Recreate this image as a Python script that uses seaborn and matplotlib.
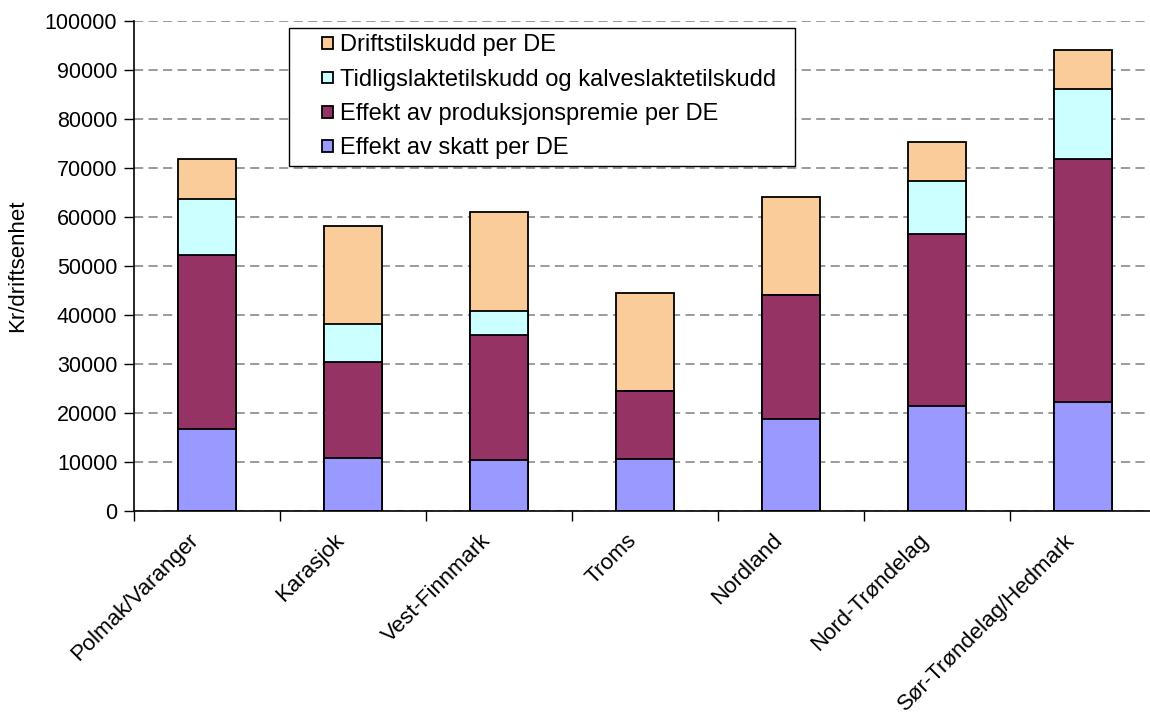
import matplotlib
matplotlib.use("Agg")
import matplotlib.pyplot as plt
from matplotlib.patches import Rectangle
from matplotlib.legend_handler import HandlerPatch
import seaborn as sns
import pandas as pd
import numpy as np

regions = ["Polmak/Varanger", "Karasjok", "Vest-Finnmark", "Troms",
           "Nordland", "Nord-Trøndelag", "Sør-Trøndelag/Hedmark"]

# Kr per driftsenhet, one list per component (bottom to top in the stack)
skatt = [16700, 10800, 10300, 10500, 18700, 21300, 22100]
produksjonspremie = [35400, 19600, 25500, 13900, 25300, 35100, 49600]
slaktetilskudd = [11500, 7600, 5000, 0, 0, 10800, 14300]
driftstilskudd = [8100, 20100, 20100, 20000, 20000, 8000, 8000]

series_names = ["Effekt av skatt per DE",
                "Effekt av produksjonspremie per DE",
                "Tidligslaktetilskudd og kalveslaktetilskudd",
                "Driftstilskudd per DE"]
series_values = [skatt, produksjonspremie, slaktetilskudd, driftstilskudd]
series_colors = ["#9999FF", "#953364", "#CCFFFF", "#F9CC99"]

sns.set_theme(style="white")
plt.rcParams["font.family"] = ["Liberation Sans", "DejaVu Sans"]
plt.rcParams["text.color"] = "black"
plt.rcParams["axes.labelcolor"] = "black"
plt.rcParams["xtick.color"] = "black"
plt.rcParams["ytick.color"] = "black"

fig = plt.figure(figsize=(11.5, 7.17), dpi=100)
ax = fig.add_axes([0.1165, 0.288, 0.8887, 0.6834])

# cumulative totals, drawn from the top of the stack downwards
cum = np.cumsum(np.array(series_values), axis=0)
for i in range(len(series_names) - 1, -1, -1):
    df = pd.DataFrame({"region": regions, "value": cum[i]})
    sns.barplot(data=df, x="region", y="value", order=regions,
                color=series_colors[i], saturation=1, width=0.4,
                edgecolor="black", linewidth=1.3, ax=ax, zorder=3)

ax.set_ylim(0, 100000)
ax.set_xlim(-0.5, len(regions) - 0.5)
ax.set_yticks(np.arange(0, 100001, 10000))
ax.set_yticklabels([str(v) for v in range(0, 100001, 10000)], fontsize=15.5)
ax.yaxis.grid(True, linestyle=(0, (6, 3.5)), color="#808080", linewidth=1.1,
              zorder=0)
ax.set_axisbelow(True)

# slanted category labels end just left of each bar's centre
label_pos = np.arange(len(regions)) - 0.13
ax.set_xticks(label_pos)
ax.set_xticklabels(regions, rotation=45, ha="right", va="top",
                   rotation_mode="anchor", fontsize=16)
ax.set_xticks(np.arange(-0.5, len(regions), 1.0), minor=True)
ax.tick_params(axis="x", which="major", length=0, pad=14)
ax.tick_params(axis="x", which="minor", length=7, width=1, color="black",
               direction="out", bottom=True)
ax.tick_params(axis="y", which="major", length=7, width=1, color="black",
               direction="out", left=True, pad=5)

for side in ("top", "right"):
    ax.spines[side].set_visible(False)
for side in ("left", "bottom"):
    ax.spines[side].set_color("black")
    ax.spines[side].set_linewidth(1.2)
ax.spines["bottom"].set_zorder(5)

ax.set_xlabel("")
ax.set_ylabel("Kr/driftsenhet", fontsize=16, labelpad=12)


def small_square(legend, orig_handle, xdescent, ydescent, width, height,
                 fontsize):
    side = 0.5 * fontsize
    return Rectangle((width - side - xdescent, (height - side) / 2 - ydescent),
                     side, side)


# legend lists the stack from top to bottom
legend_handles = [Rectangle((0, 0), 1, 1, facecolor=c, edgecolor="black",
                            linewidth=1.3) for c in series_colors[::-1]]
legend_labels = series_names[::-1]
leg = ax.legend(legend_handles, legend_labels, loc="upper left",
                bbox_to_anchor=(0.1517, 0.985, 0.4951, 0.0), mode="expand",
                fontsize=17,
                frameon=True, fancybox=False, shadow=False,
                edgecolor="black", framealpha=1,
                handlelength=1.6, handleheight=0.7, handletextpad=0.3,
                borderpad=0.28, labelspacing=0.52, borderaxespad=0,
                handler_map={Rectangle: HandlerPatch(patch_func=small_square)})
leg.get_frame().set_linewidth(1.0)
leg.set_zorder(10)

fig.savefig("out.png", dpi=100)
